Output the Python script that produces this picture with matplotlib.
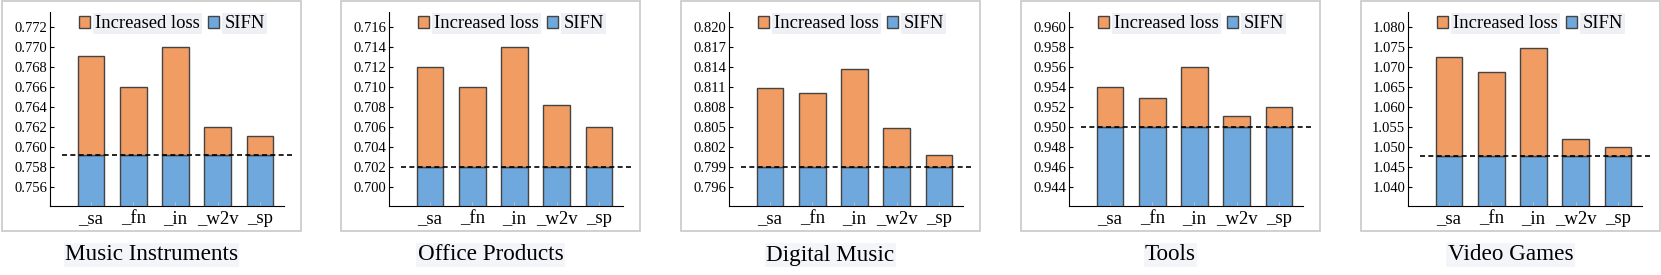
import numpy as np
import matplotlib.pyplot as plt
from matplotlib.patches import Patch, Rectangle

# data
methods = ['_sa', '_fn', '_in', '_w2v', '_sp']
datasets = ['Music Instruments', 'Office Products', 'Digital Music', 'Tools', 'Video Games']

sifn = [0.7592, 0.7020, 0.7990, 0.9500, 1.0479]

music_instruments = [0.7691, 0.7660, 0.7700, 0.7620, 0.7611]
office_products = [0.7120, 0.7100, 0.7140, 0.7082, 0.7060]
digital_music = [0.8109, 0.8102, 0.8138, 0.8049, 0.8008]
tools = [0.9540, 0.9529, 0.9560, 0.9511, 0.9520]
video_games = [1.0727, 1.0687, 1.0749, 1.0520, 1.0500]

yticks = [
    np.arange(0.756, 0.7721, 0.002),
    np.arange(0.700, 0.7161, 0.002),
    np.arange(0.796, 0.8201, 0.003),
    np.arange(0.944, 0.9601, 0.002),
    np.arange(1.040, 1.0801, 0.005),
]
ylims = [(0.7541, 0.77354), (0.6981, 0.71754), (0.79315, 0.82231),
         (0.9421, 0.96154), (1.03525, 1.08385)]

totals = [music_instruments, office_products, digital_music, tools, video_games]

ORANGE = '#F19C63'
BLUE = '#6FA8DC'
EDGE = '#444444'

plt.rcParams['font.family'] = ['Liberation Serif', 'DejaVu Serif']

W, H = 1661, 275
fig = plt.figure(figsize=(W / 100, H / 100), dpi=100)

ax_left = [50, 389, 729, 1069, 1408]
box_left = [2, 341, 681, 1021, 1361]

x = np.arange(len(methods))
for i in range(5):
    # light frame round each panel
    fig.patches.append(Rectangle((box_left[i] / W, 44 / H), 299 / W, 230 / H,
                                 transform=fig.transFigure, fill=False,
                                 edgecolor='#c8c8c8', lw=1.2))

    ax = fig.add_axes([ax_left[i] / W, 69 / H, 234 / W, 194 / H])
    base = sifn[i]
    tot = np.array(totals[i])
    ax.bar(x, [base] * len(x), width=0.63, color=BLUE, edgecolor=EDGE, lw=1)
    ax.bar(x, tot - base, bottom=base, width=0.63, color=ORANGE, edgecolor=EDGE, lw=1)
    ax.axhline(base, xmin=0.05, xmax=1.035, clip_on=False, color='black',
               ls='--', lw=1.2, dashes=(3, 2), zorder=5)

    ax.set_xlim(-0.97, 4.57)
    ax.set_ylim(*ylims[i])
    ax.set_yticks(yticks[i])
    ax.set_yticklabels(['%.3f' % v for v in yticks[i]])
    ax.set_xticks(x)
    ax.set_xticklabels(methods)

    ax.spines['top'].set_visible(False)
    ax.spines['right'].set_visible(False)
    ax.tick_params(axis='y', direction='in', length=3, labelsize=10.5, pad=2)
    ax.tick_params(axis='x', direction='in', length=3, color='#bbbbbb',
                   labelsize=13.5, pad=3)

    handles = [Patch(facecolor=ORANGE, edgecolor=EDGE, label='Increased loss'),
               Patch(facecolor=BLUE, edgecolor=EDGE, label='SIFN')]
    leg = ax.legend(handles=handles, loc='upper center', bbox_to_anchor=(0.52, 1.04),
                    ncol=2, frameon=False, fontsize=13.4, handlelength=0.6,
                    handleheight=0.6, handletextpad=0.3, columnspacing=0.4,
                    borderpad=0.1)
    for t in leg.get_texts():
        t.set_bbox(dict(facecolor='#eef0f6', edgecolor='none', pad=1.5))

    cx = (box_left[i] + 149.5) / W
    fig.text(cx, 20 / H, datasets[i], ha='center', va='center', fontsize=16.7,
             bbox=dict(facecolor='#f4f5f9', edgecolor='none', pad=1))

fig.savefig('out.png', dpi=100)
